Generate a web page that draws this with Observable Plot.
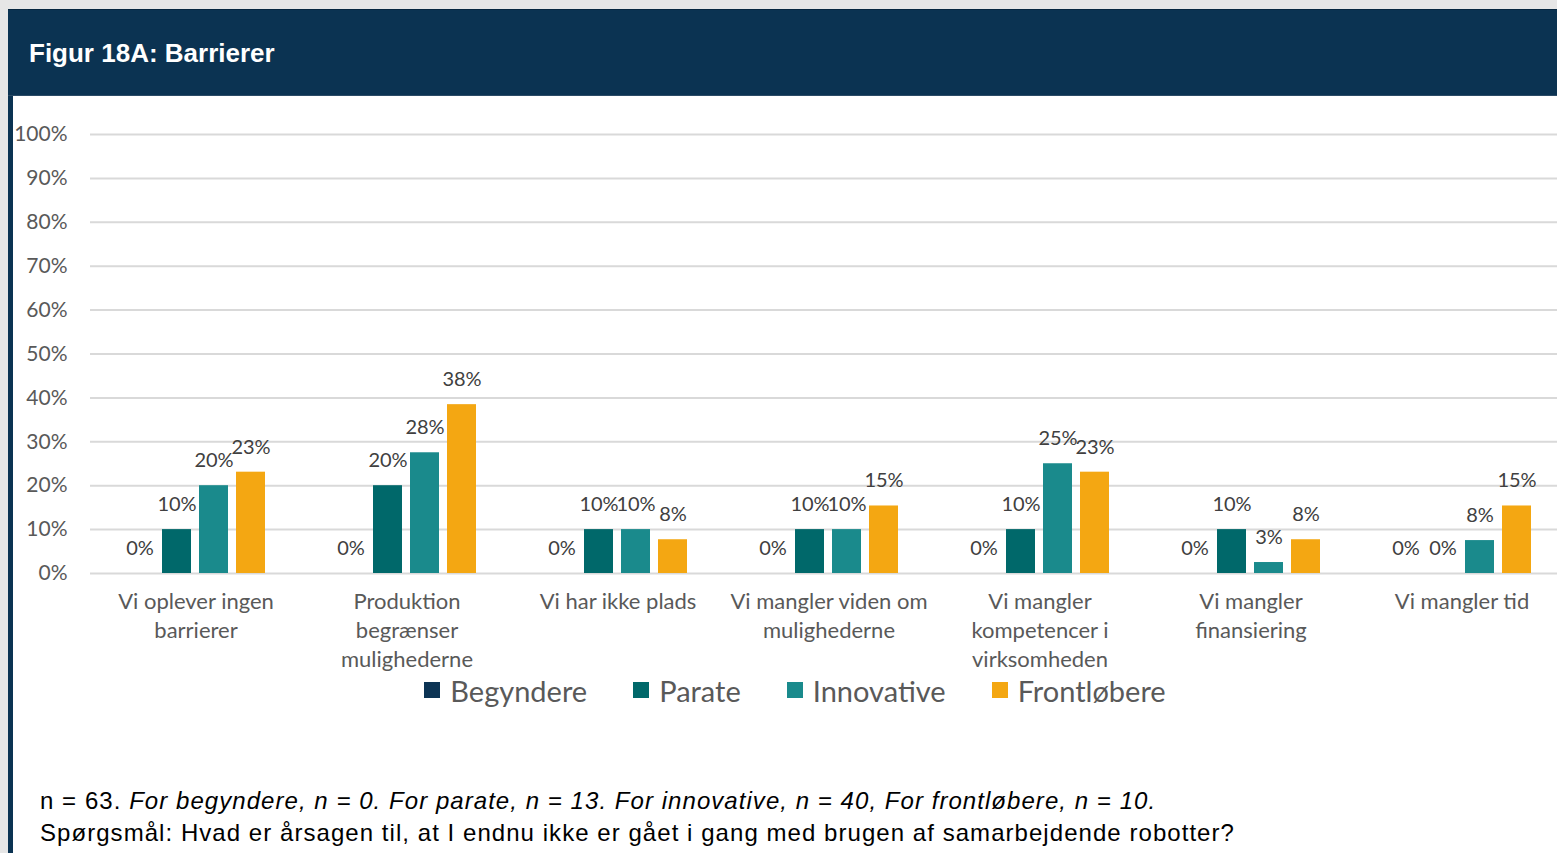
<!DOCTYPE html>
<html>
<head>
<meta charset="utf-8">
<script src="https://cdn.jsdelivr.net/npm/d3@7"></script>
<script src="https://cdn.jsdelivr.net/npm/@observablehq/plot@0.6"></script>
<style>
  html, body { margin: 0; padding: 0; }
  body { width: 1557px; height: 853px; overflow: hidden; background: #e6e6e6; position: relative; }
  #frame { position: absolute; left: 8px; top: 9px; width: 1620px; height: 900px; background: #0b3352; border-top: 1px solid #072740; }
  #header { height: 86px; color: #fff; font-family: "Liberation Sans", Arial, sans-serif; font-weight: bold; font-size: 26px; line-height: 86px; padding-left: 21px; border-bottom: 1px solid #2b4b66; box-sizing: border-box; }
  #panel { position: absolute; left: 5px; top: 86px; right: 0; bottom: 0; background: #fff; }
  #legend { width: 1564px; display: flex; justify-content: center; gap: 46px; height: 30px; align-items: center; font-family: Lato, sans-serif; font-size: 29px; color: #595959; }
  .item { display: flex; align-items: center; gap: 10px; }
  .sw { width: 16px; height: 16px; }
  #foot { margin-top: 80px; padding-left: 27px; font-family: "Liberation Sans", Arial, sans-serif; font-size: 24px; letter-spacing: 1.05px; line-height: 32px; color: #000; }
  #chart svg { display: block; }
</style>
</head>
<body>
<div id="frame">
  <div id="header">Figur 18A: Barrierer</div>
  <div id="panel">
    <div id="chart"></div>
    <div id="legend"></div>
    <div id="foot">
      <div>n = 63. <i>For begyndere, n = 0. For parate, n = 13. For innovative, n = 40, For frontløbere, n = 10.</i></div>
      <div>Spørgsmål: Hvad er årsagen til, at I endnu ikke er gået i gang med brugen af samarbejdende robotter?</div>
    </div>
  </div>
</div>
<script>
const categories = [
  "Vi oplever ingen barrierer",
  "Produktion begrænser mulighederne",
  "Vi har ikke plads",
  "Vi mangler viden om mulighederne",
  "Vi mangler kompetencer i virksomheden",
  "Vi mangler finansiering",
  "Vi mangler tid"
];
const tickLabels = [
  "Vi oplever ingen\nbarrierer",
  "Produktion\nbegrænser\nmulighederne",
  "Vi har ikke plads",
  "Vi mangler viden om\nmulighederne",
  "Vi mangler\nkompetencer i\nvirksomheden",
  "Vi mangler\nfinansiering",
  "Vi mangler tid"
];
const series = ["Begyndere", "Parate", "Innovative", "Frontløbere"];
const colors = ["#0c3454", "#00686a", "#1a8a8c", "#f4a712"];
const begyndere   = [0, 0, 0, 0, 0, 0, 0];
const parate      = [10, 20, 10, 10, 10, 10, 0];
const innovative  = [20, 27.5, 10, 10, 25, 2.5, 7.5];
const frontlobere = [23.08, 38.46, 7.69, 15.38, 23.08, 7.69, 15.38];
const yTicks = [0, 10, 20, 30, 40, 50, 60, 70, 80, 90, 100];

const valuesBySeries = [begyndere, parate, innovative, frontlobere];
const data = [];
categories.forEach((c, i) => {
  series.forEach((s, j) => {
    data.push({category: c, series: s, value: valuesBySeries[j][i]});
  });
});

const chart = Plot.plot({
  width: 1556,
  height: 579,
  marginLeft: 74,
  marginRight: 0,
  marginTop: 38,
  marginBottom: 102,
  style: {fontFamily: "Lato, sans-serif", fontSize: "21px", background: "white", color: "#595959", overflow: "visible"},
  fx: {domain: categories, padding: 0, label: null, axis: null},
  x: {domain: series, paddingInner: 0.21, paddingOuter: 0.887, axis: null, label: null},
  y: {domain: [0, 100], label: null, axis: null},
  color: {domain: series, range: colors},
  marks: [
    Plot.gridY(yTicks, {stroke: "#d9d9d9", strokeOpacity: 1, strokeWidth: 2}),
    Plot.axisY(yTicks, {tickSize: 0, tickPadding: 23, tickFormat: d => d + "%", fill: "#595959", fontSize: 21}),
    Plot.axisFx({anchor: "bottom", tickSize: 0, tickPadding: 15, lineHeight: 1.32, fontSize: 22, fill: "#595959",
      tickFormat: d => tickLabels[categories.indexOf(d)]}),
    Plot.barY(data, {fx: "category", x: "series", y: "value", fill: "series"}),
    Plot.text(data, {fx: "category", x: "series", y: "value", text: d => Math.round(d.value) + "%", dy: -25, fill: "#404040", fontSize: 20})
  ]
});
document.getElementById("chart").appendChild(chart);

const legend = document.getElementById("legend");
series.forEach((s, j) => {
  const item = document.createElement("div");
  item.className = "item";
  const sw = document.createElement("div");
  sw.className = "sw";
  sw.style.background = colors[j];
  const label = document.createElement("span");
  label.textContent = s;
  item.appendChild(sw);
  item.appendChild(label);
  legend.appendChild(item);
});
</script>
</body>
</html>
